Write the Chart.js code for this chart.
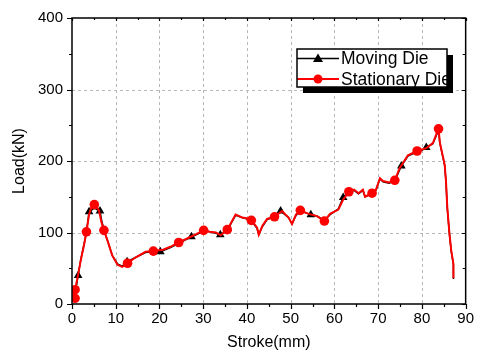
<!DOCTYPE html>
<html>
<head>
<meta charset="utf-8">
<script src="https://cdn.jsdelivr.net/npm/chart.js@4/dist/chart.umd.min.js"></script>
<style>
  html, body { margin: 0; padding: 0; background: #fff; }
  #wrap { width: 480px; height: 353px; }
</style>
</head>
<body>
<div id="wrap"><canvas id="c" width="480" height="353"></canvas></div>
<script>
// Load–stroke record of the forming press, measured at both dies.

// Stationary die: continuous trace (stroke in mm, load in kN)
const stationaryStroke = [0.5, 0.7, 0.7, 1.3, 2.0, 2.8, 3.3, 3.9, 4.4, 5.1, 5.7, 6.2, 6.7, 7.3, 8.1, 9.2, 10.4, 11.5, 12.7, 14.5, 16.8, 18.6, 20.8, 22.5, 24.4, 26.8, 28.5, 30.1, 31.5, 32.9, 34.0, 35.5, 36.5, 37.4, 38.9, 40.0, 41.0, 42.3, 42.7, 43.5, 44.6, 46.3, 48.0, 49.5, 50.3, 51.2, 52.2, 54.1, 56.0, 57.7, 59.0, 60.9, 62.0, 63.3, 64.5, 65.5, 66.5, 67.0, 68.6, 69.5, 70.4, 71.1, 72.5, 73.8, 74.9, 76.8, 78.9, 80.0, 81.0, 82.5, 83.8, 84.1, 85.2, 85.5, 85.8, 86.3, 86.7, 87.2, 87.2];
const stationaryLoad   = [4, 8, 20, 38, 61, 84, 101, 125, 135, 139, 136, 130, 115, 103, 89, 68, 55, 52, 57, 65, 73, 74, 76, 80, 86, 93, 98, 103, 101, 100, 96, 104, 115, 125, 121, 120, 117, 107, 97, 109, 119, 122, 130, 121, 112, 125, 131, 126, 123, 116, 126, 132, 146, 157, 160, 155, 160, 150, 155, 160, 176, 172, 170, 173, 190, 208, 214, 216, 218, 225, 245, 226, 195, 172, 135, 98, 75, 56, 36];

// Stationary die: sampled points shown with circles
const stationaryMarkStroke = [0.7, 0.7, 3.3, 5.1, 7.3, 12.7, 18.6, 24.4, 30.1, 35.5, 41.0, 46.3, 52.2, 57.7, 63.3, 68.6, 73.8, 78.9, 83.8];
const stationaryMarkLoad   = [8, 20, 101, 139, 103, 57, 74, 86, 103, 104, 117, 122, 131, 116, 157, 155, 173, 214, 245];

// Moving die: continuous trace
const movingStroke = [0.5, 1.0, 1.4, 2.0, 2.8, 3.3, 3.9, 5.1, 6.4, 6.8, 7.4, 8.1, 9.2, 10.4, 11.5, 12.6, 14.5, 16.8, 18.6, 20.2, 22.5, 24.4, 27.3, 28.5, 30.1, 31.5, 32.9, 33.9, 35.5, 36.5, 37.4, 38.9, 40.0, 41.0, 42.3, 42.7, 43.5, 44.6, 46.3, 47.7, 49.5, 50.3, 51.2, 52.2, 54.6, 56.0, 57.7, 59.0, 60.9, 62.0, 63.3, 64.5, 65.5, 66.5, 67.0, 68.6, 69.5, 70.4, 71.1, 72.5, 73.8, 75.3, 76.8, 78.9, 80.0, 81.0, 82.5, 83.8, 84.1, 85.2, 85.5, 85.8, 86.3, 86.7, 87.2, 87.2];
const movingLoad   = [4, 25, 40, 62, 85, 100, 129, 134, 130, 116, 102, 89, 68, 56, 53, 59, 65, 72, 73, 73, 79, 85, 94, 97, 102, 101, 99, 97, 103, 114, 124, 121, 119, 116, 106, 97, 108, 118, 122, 130, 121, 112, 124, 130, 125, 123, 117, 125, 133, 149, 156, 159, 154, 159, 150, 154, 159, 175, 171, 169, 172, 193, 207, 213, 215, 219, 224, 243, 225, 194, 171, 134, 97, 74, 55, 35];

// Moving die: sampled points shown with triangles
const movingMarkStroke = [1.4, 3.9, 6.4, 12.6, 20.2, 27.3, 33.9, 47.7, 54.6, 62.0, 75.3, 81.0];
const movingMarkLoad   = [40, 129, 130, 59, 73, 94, 97, 130, 125, 149, 193, 219];

// Axis ticks
const xTicks = [0, 10, 20, 30, 40, 50, 60, 70, 80, 90];
const yTicks = [0, 100, 200, 300, 400];

const seriesNames = ['Moving Die', 'Stationary Die'];
const seriesColors = ['#000000', '#ff0000'];

const pairs = (xs, ys) => xs.map((x, i) => ({ x: x, y: ys[i] }));

const FONT = '"Liberation Sans", Arial, sans-serif';

// Dashed grid behind the data
const gridPlugin = {
  id: 'dashGrid',
  beforeDatasetsDraw(chart) {
    const { ctx, chartArea: a, scales: { x, y } } = chart;
    ctx.save();
    ctx.strokeStyle = '#b8b8b8';
    ctx.lineWidth = 1;
    ctx.setLineDash([3, 3]);
    ctx.beginPath();
    xTicks.slice(1, -1).forEach(v => {
      const px = Math.round(x.getPixelForValue(v)) + 0.5;
      ctx.moveTo(px, a.top); ctx.lineTo(px, a.bottom);
    });
    yTicks.slice(1, -1).forEach(v => {
      const py = Math.round(y.getPixelForValue(v)) + 0.5;
      ctx.moveTo(a.left, py); ctx.lineTo(a.right, py);
    });
    ctx.stroke();
    ctx.restore();
  }
};

// Axis frame with outward ticks (left/bottom), inward ticks (top/right)
const framePlugin = {
  id: 'frame',
  afterDraw(chart) {
    const { ctx, chartArea: a, scales: { x, y } } = chart;
    ctx.save();
    ctx.strokeStyle = '#000';
    ctx.lineWidth = 1.5;
    ctx.strokeRect(a.left, a.top, a.right - a.left, a.bottom - a.top);
    ctx.lineWidth = 1.2;
    ctx.beginPath();
    const xMin = xTicks[0], xMax = xTicks[xTicks.length - 1];
    const yMin = yTicks[0], yMax = yTicks[yTicks.length - 1];
    for (let v = xMin; v <= xMax + 1e-9; v += 5) {
      const px = Math.round(x.getPixelForValue(v)) + 0.5;
      const major = Math.abs(v % 10) < 1e-9;
      const len = major ? 5 : 3;
      ctx.moveTo(px, a.bottom); ctx.lineTo(px, a.bottom + len);
      ctx.moveTo(px, a.top); ctx.lineTo(px, a.top + (major ? 3 : 2));
    }
    for (let v = yMin; v <= yMax + 1e-9; v += 50) {
      const py = Math.round(y.getPixelForValue(v)) + 0.5;
      const major = Math.abs(v % 100) < 1e-9;
      const len = major ? 5 : 3;
      ctx.moveTo(a.left, py); ctx.lineTo(a.left - len, py);
      ctx.moveTo(a.right, py); ctx.lineTo(a.right - (major ? 4 : 3), py);
    }
    ctx.stroke();
    ctx.restore();
  }
};

// Boxed legend with drop shadow
const legendPlugin = {
  id: 'boxLegend',
  afterDraw(chart) {
    const ctx = chart.ctx;
    const bx = 297, by = 49, bw = 150, bh = 38;
    ctx.save();
    ctx.fillStyle = '#000';
    ctx.fillRect(bx + 6, by + 6, bw, bh);
    ctx.fillStyle = '#fff';
    ctx.fillRect(bx, by, bw, bh);

    const rows = [58.5, 79];
    const markX = 318;
    rows.forEach((ry, i) => {
      ctx.strokeStyle = seriesColors[i];
      ctx.lineWidth = i === 0 ? 1.5 : 2;
      ctx.beginPath();
      ctx.moveTo(bx, ry); ctx.lineTo(bx + 42, ry);
      ctx.stroke();
      ctx.fillStyle = seriesColors[i];
      ctx.beginPath();
      if (i === 0) {
        ctx.moveTo(markX, ry - 5);
        ctx.lineTo(markX + 5, ry + 3.5);
        ctx.lineTo(markX - 5, ry + 3.5);
        ctx.closePath();
      } else {
        ctx.arc(markX, ry, 4.5, 0, Math.PI * 2);
      }
      ctx.fill();
    });

    ctx.save();
    ctx.beginPath();
    ctx.rect(bx, by, bw, bh);
    ctx.clip();
    ctx.fillStyle = '#000';
    ctx.font = '17.5px ' + FONT;
    ctx.textBaseline = 'alphabetic';
    ctx.textAlign = 'left';
    ctx.fillText(seriesNames[0], 341, 64);
    ctx.fillText(seriesNames[1], 341, 85);
    ctx.restore();

    ctx.strokeStyle = '#000';
    ctx.lineWidth = 1.5;
    ctx.strokeRect(bx, by, bw, bh);
    ctx.restore();
  }
};

new Chart(document.getElementById('c'), {
  type: 'line',
  data: {
    datasets: [
      {
        label: seriesNames[1] + ' markers',
        data: pairs(stationaryMarkStroke, stationaryMarkLoad),
        showLine: false,
        pointStyle: 'circle',
        pointRadius: 4.8,
        backgroundColor: '#ff0000',
        borderColor: '#ff0000',
        borderWidth: 0,
        order: 0
      },
      {
        label: seriesNames[1],
        data: pairs(stationaryStroke, stationaryLoad),
        borderColor: '#ff0000',
        borderWidth: 2,
        pointRadius: 0,
        tension: 0,
        order: 1
      },
      {
        label: seriesNames[0] + ' markers',
        data: pairs(movingMarkStroke, movingMarkLoad),
        showLine: false,
        pointStyle: 'triangle',
        pointRadius: 5,
        backgroundColor: '#000000',
        borderColor: '#000000',
        borderWidth: 0,
        order: 2
      },
      {
        label: seriesNames[0],
        data: pairs(movingStroke, movingLoad),
        borderColor: '#000000',
        borderWidth: 1.5,
        pointRadius: 0,
        tension: 0,
        order: 3
      }
    ]
  },
  options: {
    responsive: false,
    animation: false,
    events: [],
    layout: { padding: { top: 16, right: 12, left: 0, bottom: 0 } },
    plugins: { legend: { display: false }, tooltip: { enabled: false } },
    scales: {
      x: {
        type: 'linear',
        min: xTicks[0],
        max: xTicks[xTicks.length - 1],
        afterFit(s) { s.height = 49; },
        afterBuildTicks(s) { s.ticks = xTicks.map(v => ({ value: v })); },
        ticks: { color: '#000', padding: 6, maxRotation: 0, font: { family: FONT, size: 15 } },
        grid: { display: false, drawTicks: false },
        border: { display: false },
        title: { display: true, text: 'Stroke(mm)', color: '#000', font: { family: FONT, size: 16 }, padding: { top: 0, bottom: 1 } }
      },
      y: {
        type: 'linear',
        min: yTicks[0],
        max: yTicks[yTicks.length - 1],
        afterFit(s) { s.width = 72; },
        afterBuildTicks(s) { s.ticks = yTicks.map(v => ({ value: v })); },
        ticks: { color: '#000', padding: 9, font: { family: FONT, size: 15 } },
        grid: { display: false, drawTicks: false },
        border: { display: false },
        title: { display: true, text: 'Load(kN)', color: '#000', font: { family: FONT, size: 16 }, padding: { top: 10, bottom: 0 } }
      }
    }
  },
  plugins: [gridPlugin, framePlugin, legendPlugin]
});
</script>
</body>
</html>
